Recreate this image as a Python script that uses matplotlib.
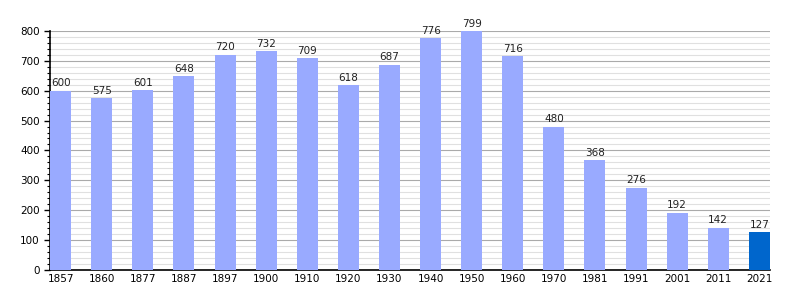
import matplotlib
matplotlib.use('Agg')
from matplotlib import pyplot as plt
from matplotlib.ticker import MultipleLocator

years = ['1857', '1860', '1877', '1887', '1897', '1900', '1910', '1920', '1930',
         '1940', '1950', '1960', '1970', '1981', '1991', '2001', '2011', '2021']
population = [600, 575, 601, 648, 720, 732, 709, 618, 687,
              776, 799, 716, 480, 368, 276, 192, 142, 127]

colors = ['#99aaff'] * (len(years) - 1) + ['#0066cc']

fig = plt.figure(figsize=(8, 3), dpi=100)
ax = fig.add_axes([0.0625, 0.1, 0.9, 0.797])

x = range(len(years))
ax.bar(x, population, width=0.51, color=colors, zorder=3)
for i, v in enumerate(population):
    ax.text(i, v + 8, str(v), ha='center', va='bottom', fontsize=7.5, color='#222222', zorder=4)

ax.set_xticks(list(x))
ax.set_xticklabels(years, fontsize=7.5)
ax.set_xlim(-0.26, len(years) - 1 + 0.26)
ax.set_ylim(0, 800)
ax.yaxis.set_major_locator(MultipleLocator(100))
ax.yaxis.set_minor_locator(MultipleLocator(20))
ax.tick_params(axis='y', labelsize=7.5, length=4, width=1)
ax.tick_params(axis='y', which='minor', length=2.5, width=0.8)
ax.tick_params(axis='x', length=0, pad=3)

ax.grid(axis='y', which='major', color='#aaaaaa', linewidth=0.8, zorder=0)
ax.grid(axis='y', which='minor', color='#e0e0e0', linewidth=0.8, zorder=0)
ax.set_axisbelow(True)

for s in ['top', 'right']:
    ax.spines[s].set_visible(False)
ax.spines['left'].set_linewidth(1.2)
ax.spines['bottom'].set_linewidth(1.2)

plt.savefig('out.png', dpi=100)
